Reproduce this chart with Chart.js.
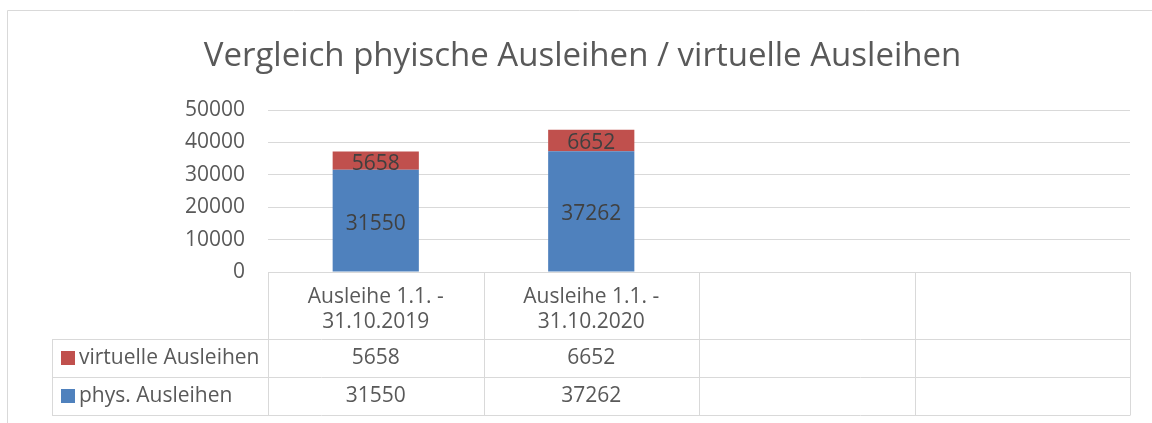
<!DOCTYPE html>
<html>
<head>
<meta charset="utf-8">
<script src="https://cdn.jsdelivr.net/npm/chart.js@4"></script>
<style>
  html, body { margin: 0; padding: 0; background: #fff; }
  #wrap { width: 1152px; height: 423px; }
</style>
</head>
<body>
<div id="wrap"><canvas id="ausleihChart" width="1152" height="423"></canvas></div>
<script>
const categories = [['Ausleihe 1.1. -', '31.10.2019'], ['Ausleihe 1.1. -', '31.10.2020'], '', ''];
const physValues = [31550, 37262, null, null];
const virtValues = [5658, 6652, null, null];
const yTicks = [0, 10000, 20000, 30000, 40000, 50000];
const seriesNames = ['phys. Ausleihen', 'virtuelle Ausleihen'];
const seriesColors = ['#4f81bd', '#c0504d'];
const titleText = 'Vergleich phyische Ausleihen / virtuelle Ausleihen';

const fontFamily = '"Open Sans", sans-serif';
const lineColor = '#d9d9d9';
const textColor = '#595959';

// data labels, frame, title and the data table below the plot
const excelLook = {
  id: 'excelLook',
  afterDatasetsDraw(chart) {
    const c = chart.ctx;
    c.save();
    c.font = '21px ' + fontFamily;
    c.fillStyle = '#404040';
    c.textAlign = 'center';
    c.textBaseline = 'middle';
    chart.data.datasets.forEach((ds, i) => {
      chart.getDatasetMeta(i).data.forEach((bar, j) => {
        if (ds.data[j] == null) return;
        c.fillText(String(ds.data[j]), bar.x, (bar.y + bar.base) / 2 + 3);
      });
    });
    c.restore();
  },
  afterDraw(chart) {
    const c = chart.ctx;
    const area = chart.chartArea;
    const xs = chart.scales.x;
    const colW = (area.right - area.left) / categories.length;
    const headTop = area.bottom;
    const headH = 67;
    const rowH = 38;
    const tableLeft = 52;

    c.save();
    c.strokeStyle = lineColor;
    c.lineWidth = 1;

    // outer chart frame
    c.beginPath();
    c.moveTo(7.5, 423);
    c.lineTo(7.5, 10.5);
    c.lineTo(1152, 10.5);
    c.stroke();

    // title
    c.fillStyle = textColor;
    c.font = '33px ' + fontFamily;
    c.textAlign = 'center';
    c.textBaseline = 'alphabetic';
    c.fillText(titleText, 582.5, 66);

    // table grid
    const rows = [headTop, headTop + headH, headTop + headH + rowH, headTop + headH + 2 * rowH];
    c.beginPath();
    rows.forEach((y, k) => {
      const yy = Math.round(y) + 0.5;
      c.moveTo(k === 0 ? area.left : tableLeft, yy);
      c.lineTo(area.right, yy);
    });
    for (let i = 0; i <= categories.length; i++) {
      const x = Math.round(area.left + i * colW) + 0.5;
      c.moveTo(x, headTop);
      c.lineTo(x, rows[3] + 0.5);
    }
    c.moveTo(tableLeft + 0.5, rows[1]);
    c.lineTo(tableLeft + 0.5, rows[3] + 0.5);
    c.stroke();

    // header labels
    c.font = '21px ' + fontFamily;
    c.textBaseline = 'middle';
    categories.forEach((lab, i) => {
      const cx = xs.getPixelForTick(i);
      const lines = Array.isArray(lab) ? lab : [lab];
      lines.forEach((t, k) => c.fillText(t, cx, headTop + 25 + k * 25));
    });

    // series rows (top row = last series, like Excel)
    const rowSeries = [1, 0];
    rowSeries.forEach((s, r) => {
      const cy = rows[1] + r * rowH + rowH / 2;
      const vals = chart.data.datasets[s].data;
      c.fillStyle = seriesColors[s];
      c.fillRect(61, cy - 7, 14, 14);
      c.fillStyle = textColor;
      c.textAlign = 'left';
      c.fillText(seriesNames[s], 79, cy);
      c.textAlign = 'center';
      vals.forEach((v, i) => {
        if (v == null) return;
        c.fillText(String(v), xs.getPixelForTick(i), cy);
      });
    });
    c.restore();
  }
};

new Chart(document.getElementById('ausleihChart').getContext('2d'), {
  type: 'bar',
  data: {
    labels: categories,
    datasets: [
      { label: seriesNames[0], data: physValues, backgroundColor: seriesColors[0] },
      { label: seriesNames[1], data: virtValues, backgroundColor: seriesColors[1] }
    ]
  },
  options: {
    responsive: false,
    animation: false,
    layout: { padding: { left: 0, top: 110, right: 22, bottom: 151 } },
    datasets: { bar: { categoryPercentage: 1, barPercentage: 0.4 } },
    plugins: {
      legend: { display: false },
      title: { display: false },
      tooltip: { enabled: false }
    },
    scales: {
      x: { stacked: true, display: false },
      y: {
        stacked: true,
        min: yTicks[0],
        max: yTicks[yTicks.length - 1],
        ticks: {
          stepSize: yTicks[1] - yTicks[0],
          color: textColor,
          font: { family: fontFamily, size: 21 },
          padding: 23,
          callback: v => String(v)
        },
        grid: { color: lineColor, drawTicks: false },
        border: { display: false },
        afterFit(scale) { scale.width = 268; }
      }
    }
  },
  plugins: [excelLook]
});
</script>
</body>
</html>
